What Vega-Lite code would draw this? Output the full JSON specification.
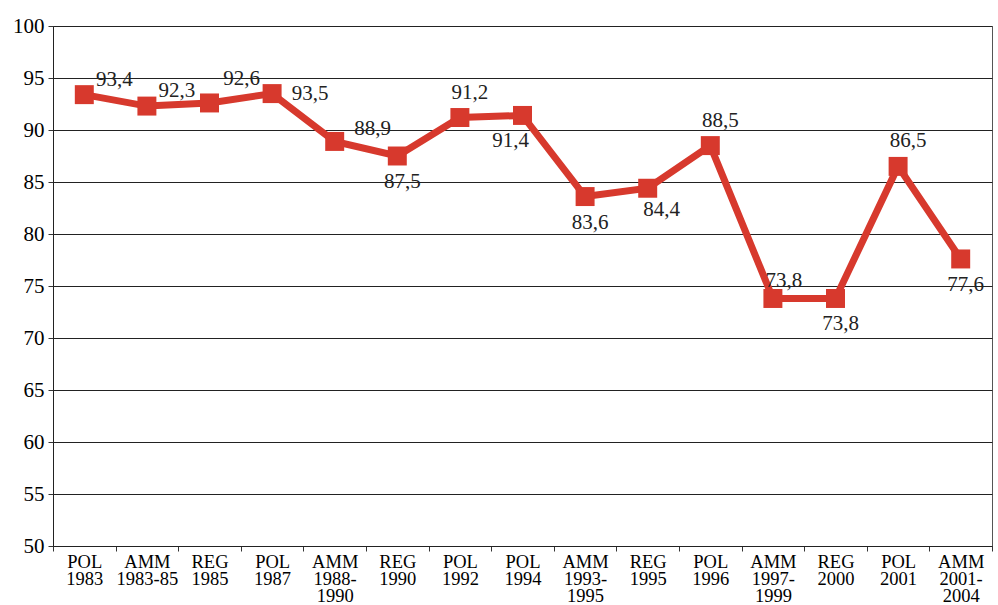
{
  "$schema": "https://vega.github.io/schema/vega-lite/v6.json",
  "width": 939,
  "height": 520,
  "autosize": {"type": "none"},
  "padding": {"left": 53, "top": 26, "right": 6, "bottom": 59},
  "background": "white",
  "config": {
    "locale": {"number": {"decimal": ",", "thousands": ".", "grouping": [3], "currency": ["", "€"]}},
    "font": "Liberation Serif",
    "view": {"stroke": "#555", "strokeWidth": 1}
  },
  "data": {
    "values": [
      {"id": 1, "cat": "POL\n1983", "value": 93.4},
      {"id": 2, "cat": "AMM\n1983-85", "value": 92.3},
      {"id": 3, "cat": "REG\n1985", "value": 92.6},
      {"id": 4, "cat": "POL\n1987", "value": 93.5},
      {"id": 5, "cat": "AMM\n1988-\n1990", "value": 88.9},
      {"id": 6, "cat": "REG\n1990", "value": 87.5},
      {"id": 7, "cat": "POL\n1992", "value": 91.2},
      {"id": 8, "cat": "POL\n1994", "value": 91.4},
      {"id": 9, "cat": "AMM\n1993-\n1995", "value": 83.6},
      {"id": 10, "cat": "REG\n1995", "value": 84.4},
      {"id": 11, "cat": "POL\n1996", "value": 88.5},
      {"id": 12, "cat": "AMM\n1997-\n1999", "value": 73.8},
      {"id": 13, "cat": "REG\n2000", "value": 73.8},
      {"id": 14, "cat": "POL\n2001", "value": 86.5},
      {"id": 15, "cat": "AMM\n2001-\n2004", "value": 77.6}
    ]
  },
  "encoding": {
    "x": {
      "field": "cat",
      "type": "nominal",
      "sort": {"field": "id"},
      "scale": {"type": "band", "paddingInner": 0, "paddingOuter": 0},
      "axis": {
        "title": null,
        "labelAngle": 0,
        "labelExpr": "split(datum.label, '\\n')",
        "labelFont": "Liberation Serif",
        "labelFontSize": 18.5,
        "labelLineHeight": 17,
        "labelColor": "black",
        "labelPadding": 1,
        "labelBaseline": "top",
        "tickBand": "extent",
        "tickSize": 5,
        "tickColor": "#333",
        "domainColor": "#222",
        "grid": false
      }
    },
    "y": {
      "field": "value",
      "type": "quantitative",
      "scale": {"domain": [50, 100], "nice": false, "zero": false},
      "axis": {
        "title": null,
        "values": [50, 55, 60, 65, 70, 75, 80, 85, 90, 95, 100],
        "format": "d",
        "labelFont": "Liberation Serif",
        "labelFontSize": 21,
        "labelColor": "black",
        "labelPadding": 4,
        "tickSize": 5,
        "tickColor": "#333",
        "domainColor": "#222",
        "grid": true,
        "gridColor": "#222",
        "gridWidth": 1,
        "gridOpacity": 1
      }
    }
  },
  "layer": [
    {"mark": {"type": "line", "color": "#d7392d", "strokeWidth": 7}},
    {"mark": {"type": "point", "shape": "square", "filled": true, "size": 360, "color": "#d7392d", "opacity": 1}},
    {"transform": [{"filter": {"field": "id", "oneOf": [1, 2]}}],
     "mark": {"type": "text", "fontSize": 21, "font": "Liberation Serif", "color": "#222", "dx": 30, "dy": -15},
     "encoding": {"text": {"field": "value", "type": "quantitative", "format": ".1f"}}},
    {"transform": [{"filter": {"field": "id", "oneOf": [3]}}],
     "mark": {"type": "text", "fontSize": 21, "font": "Liberation Serif", "color": "#222", "dx": 32, "dy": -24},
     "encoding": {"text": {"field": "value", "type": "quantitative", "format": ".1f"}}},
    {"transform": [{"filter": {"field": "id", "oneOf": [4]}}],
     "mark": {"type": "text", "fontSize": 21, "font": "Liberation Serif", "color": "#222", "dx": 38, "dy": 0},
     "encoding": {"text": {"field": "value", "type": "quantitative", "format": ".1f"}}},
    {"transform": [{"filter": {"field": "id", "oneOf": [5]}}],
     "mark": {"type": "text", "fontSize": 21, "font": "Liberation Serif", "color": "#222", "dx": 38, "dy": -12},
     "encoding": {"text": {"field": "value", "type": "quantitative", "format": ".1f"}}},
    {"transform": [{"filter": {"field": "id", "oneOf": [6, 9, 13, 15]}}],
     "mark": {"type": "text", "fontSize": 21, "font": "Liberation Serif", "color": "#222", "dx": 5, "dy": 26},
     "encoding": {"text": {"field": "value", "type": "quantitative", "format": ".1f"}}},
    {"transform": [{"filter": {"field": "id", "oneOf": [7, 11, 14]}}],
     "mark": {"type": "text", "fontSize": 21, "font": "Liberation Serif", "color": "#222", "dx": 10, "dy": -25},
     "encoding": {"text": {"field": "value", "type": "quantitative", "format": ".1f"}}},
    {"transform": [{"filter": {"field": "id", "oneOf": [8]}}],
     "mark": {"type": "text", "fontSize": 21, "font": "Liberation Serif", "color": "#222", "dx": -12, "dy": 26},
     "encoding": {"text": {"field": "value", "type": "quantitative", "format": ".1f"}}},
    {"transform": [{"filter": {"field": "id", "oneOf": [10]}}],
     "mark": {"type": "text", "fontSize": 21, "font": "Liberation Serif", "color": "#222", "dx": 14, "dy": 22},
     "encoding": {"text": {"field": "value", "type": "quantitative", "format": ".1f"}}},
    {"transform": [{"filter": {"field": "id", "oneOf": [12]}}],
     "mark": {"type": "text", "fontSize": 21, "font": "Liberation Serif", "color": "#222", "dx": 11, "dy": -17},
     "encoding": {"text": {"field": "value", "type": "quantitative", "format": ".1f"}}}
  ]
}
